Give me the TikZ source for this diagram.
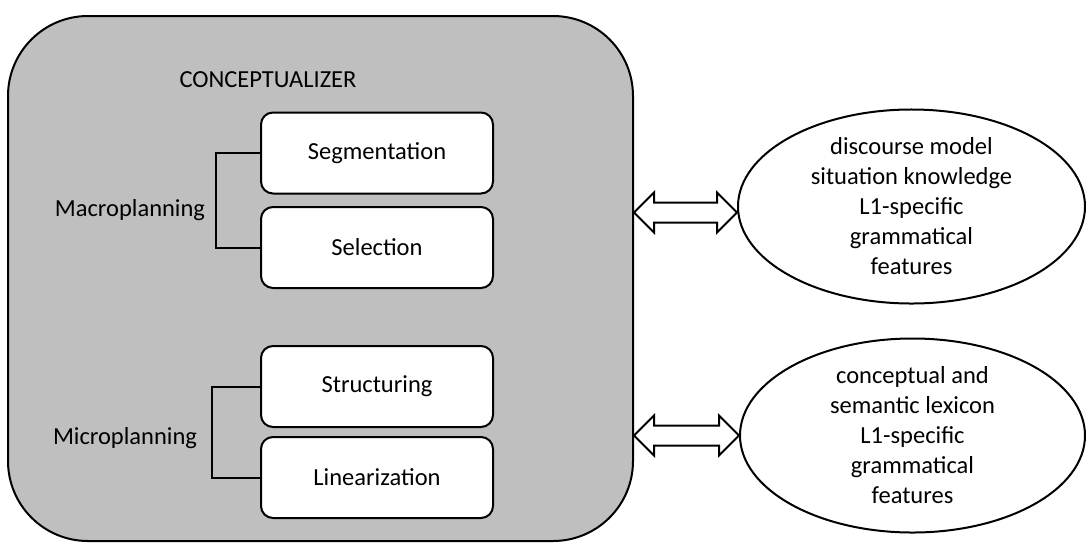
\documentclass[tikz,border=0pt]{standalone}
\usepackage{fontspec}
\setmainfont{Carlito}
\usetikzlibrary{shapes.geometric,calc}
\definecolor{boxgray}{RGB}{191,191,191}
\begin{document}
\begin{tikzpicture}[x=0.5pt,y=-0.5pt,line width=1pt,
  every node/.style={font=\fontsize{12.25}{15}\selectfont},
  container/.style={draw,fill=boxgray,rounded corners=40pt,minimum width=312.5pt,minimum height=262.5pt,inner sep=0pt},
  stagebox/.style={draw,fill=white,rounded corners=6pt,minimum width=116pt,minimum height=40.5pt,inner sep=0pt},
  knowledge/.style={draw,fill=white,ellipse,inner sep=0pt,align=center},
  plainlabel/.style={inner sep=0pt},
  dblarrow/.style={draw,fill=white,line join=miter}]
\useasboundingbox (0,0) rectangle (1086,542);
\node[container] (big) at (320.5,278.5) {};
\node[plainlabel] (title) at (268,80) {CONCEPTUALIZER};
\node[stagebox] (seg) at (377,153) {Segmentation};
\node[stagebox] (sel) at (377,247.5) {Selection};
\node[stagebox] (str) at (377,386.5) {Structuring};
\node[stagebox] (lin) at (377,477.5) {Linearization};
\node[plainlabel] (macro) at (130,210) {Macroplanning};
\node[plainlabel] (micro) at (125,438) {Microplanning};
\draw (seg.west) -- ++(-44,0) |- (sel.west);
\draw (str.west) -- ++(-48,0) |- (lin.west);
\node[knowledge,minimum width=173.5pt,minimum height=81.5pt] (ka) at (911.5,206.5)
  {discourse model\\situation knowledge\\L1-specific\\grammatical\\features};
\node[knowledge,minimum width=172.5pt,minimum height=79.5pt] (kb) at (912.5,435.5)
  {conceptual and\\semantic lexicon\\L1-specific\\grammatical\\features};
\coordinate (a1) at ($(big.east |- ka.west)+(0,6)$);
\coordinate (b1) at ($(ka.west)+(0,6)$);
\coordinate (a2) at (big.east |- kb.west);
\coordinate (b2) at (kb.west);
\foreach \a/\b in {a1/b1,a2/b2}{
  \draw[dblarrow] (\a) -- ($(\a)+(20,-20)$) -- ($(\a)+(20,-10)$) -- ($(\b)+(-20,-10)$)
    -- ($(\b)+(-20,-20)$) -- (\b) -- ($(\b)+(-20,20)$) -- ($(\b)+(-20,10)$)
    -- ($(\a)+(20,10)$) -- ($(\a)+(20,20)$) -- cycle;
}
\end{tikzpicture}
\end{document}
